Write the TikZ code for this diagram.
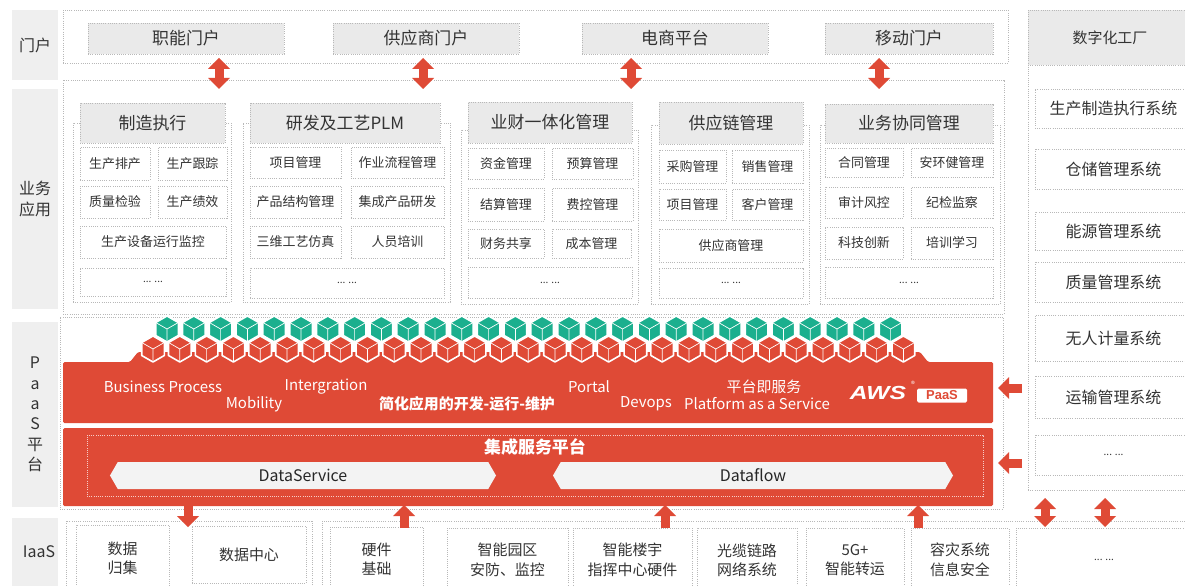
\documentclass[tikz,border=0pt]{standalone}
\usepackage{fontspec}
\setmainfont{Noto Sans CJK SC}
\newfontfamily\logofont{Liberation Sans}
\usetikzlibrary{arrows.meta,shapes.symbols}

\definecolor{awsred}{HTML}{DF4A36}
\definecolor{cubegreen}{HTML}{1BAF8E}
\definecolor{sidegrey}{HTML}{EFEFEF}
\definecolor{headgrey}{HTML}{EAEAEA}
\definecolor{dotgrey}{HTML}{B8B8B8}
\definecolor{ink}{HTML}{333333}
\definecolor{barfill}{HTML}{F3F3F3}

% box given by its corners (x1,y1)-(x2,y2): name, x1, y1, x2, y2, style, text
\newcommand{\placebox}[7]{%
  \node[#6, minimum width={(#4-#2)*1bp}, minimum height={(#5-#3)*1bp}]
    (#1) at ({(#2+#4)/2},{(#3+#5)/2}) {#7};}

% one isometric cube: centre x, centre y, colour
\newcommand{\isocube}[3]{%
  \begin{scope}[shift={(#1,#2)}]
    \filldraw[fill=#3, draw=white, line width=1.6bp, line join=round]
      (0,-13) -- (11.3,-6.5) -- (11.3,6.5) -- (0,13) -- (-11.3,6.5) -- (-11.3,-6.5) -- cycle;
    \draw[white, line width=0.7bp] (-11.3,-6.5) -- (0,0) -- (11.3,-6.5) (0,0) -- (0,13);
  \end{scope}}

\tikzset{
  dotline/.style={draw=dotgrey, line width=0.8bp, dash pattern=on 0.9bp off 1.3bp},
  frame/.style={dotline, inner sep=0pt, outer sep=0pt},
  sidelabel/.style={fill=sidegrey, inner sep=0pt, outer sep=0pt, text=ink,
    font=\fontsize{16}{20.5}\selectfont, align=center},
  headcell/.style={dotline, fill=headgrey, inner sep=0pt, outer sep=0pt, text=ink,
    font=\fontsize{17}{20}\selectfont},
  cell/.style={dotline, fill=white, inner sep=0pt, outer sep=0pt, text=ink,
    font=\fontsize{13}{15}\selectfont, align=center},
  syscell/.style={cell, font=\fontsize{16}{19}\selectfont},
  iaascell/.style={cell, font=\fontsize{15}{19.5}\selectfont},
  morecell/.style={cell, font=\fontsize{10}{12}\selectfont},
  bandtext/.style={text=white, inner sep=0pt, font=\fontsize{15}{18}\selectfont},
  databar/.style={shape=signal, signal to=east and west, signal pointer angle=120,
    fill=barfill, inner sep=0pt, outer sep=0pt, text=black!85,
    font=\fontsize{16}{19}\selectfont},
  block/.style={draw=awsred, line width=9bp},
  onetip/.style={-{Triangle[width=22bp,length=11bp,line width=0pt]}},
  twotips/.style={{Triangle[width=22bp,length=11bp,line width=0pt]}-{Triangle[width=22bp,length=11bp,line width=0pt]}}
}

\begin{document}
\begin{tikzpicture}[x=1bp,y=-1bp]
\useasboundingbox (0,0) rectangle (1185,586);
\clip (0,0) rectangle (1185,586);
\fill[white] (0,0) rectangle (1185,586);

% ---------- layer labels ----------
\placebox{lblPortal}{12}{10}{58}{80}{sidelabel}{门户}
\placebox{lblApp}{12}{89}{58}{309}{sidelabel}{业务\\应用}
\placebox{lblPaaS}{12}{322}{58}{507}{sidelabel}{P\\a\\a\\S\\平\\台}
\placebox{lblIaaS}{12}{518}{58}{592}{sidelabel}{}
\node[text=ink, inner sep=0pt, font=\fontsize{16}{19}\selectfont] (lblIaaStext) at (39,552) {IaaS};

% ---------- outer frames ----------
\placebox{portalFrame}{63}{10}{1008}{63}{frame}{}
\placebox{appFrame}{63}{80}{1004}{314}{frame}{}
\placebox{paasFrame}{60}{317}{1003}{509}{frame}{}
\placebox{factoryFrame}{1028}{10}{1192}{490}{frame}{}
\placebox{iaasFrameA}{66}{521}{312}{592}{frame}{}
\placebox{iaasFrameB}{322}{521}{1192}{592}{frame}{}

% ---------- portals ----------
\placebox{portalA}{88}{23}{284}{54}{headcell}{职能门户}
\placebox{portalB}{333}{23}{519}{54}{headcell}{供应商门户}
\placebox{portalC}{582}{23}{768}{54}{headcell}{电商平台}
\placebox{portalD}{825}{23}{993}{54}{headcell}{移动门户}

% ---------- business applications ----------
% manufacturing execution
\placebox{grpA}{73}{123}{231}{302}{frame}{}
\placebox{hdrA}{80}{103}{225}{143}{headcell}{制造执行}
\placebox{a11}{80}{147}{150}{180}{cell}{生产排产}
\placebox{a12}{158}{147}{227}{180}{cell}{生产跟踪}
\placebox{a21}{80}{186}{150}{218}{cell}{质量检验}
\placebox{a22}{158}{186}{227}{218}{cell}{生产绩效}
\placebox{a3}{80}{226}{226}{258}{cell}{生产设备运行监控}
\placebox{a4}{80}{268}{226}{296}{morecell}{... ...}
% R&D and process PLM
\placebox{grpB}{243}{123}{450}{302}{frame}{}
\placebox{hdrB}{250}{103}{440}{143}{headcell}{研发及工艺PLM}
\placebox{b11}{250}{147}{341}{178}{cell}{项目管理}
\placebox{b12}{351}{147}{444}{178}{cell}{作业流程管理}
\placebox{b21}{250}{186}{341}{218}{cell}{产品结构管理}
\placebox{b22}{351}{186}{444}{218}{cell}{集成产品研发}
\placebox{b31}{250}{226}{341}{258}{cell}{三维工艺仿真}
\placebox{b32}{351}{226}{444}{258}{cell}{人员培训}
\placebox{b4}{250}{268}{444}{298}{morecell}{... ...}
% business-finance
\placebox{grpC}{461}{130}{638}{304}{frame}{}
\placebox{hdrC}{468}{102}{632}{143}{headcell}{业财一体化管理}
\placebox{c11}{468}{148}{544}{179}{cell}{资金管理}
\placebox{c12}{552}{148}{633}{179}{cell}{预算管理}
\placebox{c21}{468}{188}{544}{221}{cell}{结算管理}
\placebox{c22}{552}{188}{633}{221}{cell}{费控管理}
\placebox{c31}{468}{229}{544}{258}{cell}{财务共享}
\placebox{c32}{552}{229}{631}{258}{cell}{成本管理}
\placebox{c4}{468}{267}{632}{298}{morecell}{... ...}
% supply chain
\placebox{grpD}{651}{125}{809}{304}{frame}{}
\placebox{hdrD}{659}{102}{803}{144}{headcell}{供应链管理}
\placebox{d11}{659}{150}{726}{183}{cell}{采购管理}
\placebox{d12}{732}{150}{803}{183}{cell}{销售管理}
\placebox{d21}{659}{189}{726}{220}{cell}{项目管理}
\placebox{d22}{732}{189}{803}{220}{cell}{客户管理}
\placebox{d3}{659}{229}{803}{262}{cell}{供应商管理}
\placebox{d4}{659}{268}{803}{298}{morecell}{... ...}
% collaboration
\placebox{grpE}{820}{125}{1000}{304}{frame}{}
\placebox{hdrE}{825}{104}{993}{143}{headcell}{业务协同管理}
\placebox{e11}{825}{148}{903}{177}{cell}{合同管理}
\placebox{e12}{911}{148}{993}{177}{cell}{安环健管理}
\placebox{e21}{825}{187}{903}{218}{cell}{审计风控}
\placebox{e22}{911}{187}{993}{218}{cell}{纪检监察}
\placebox{e31}{825}{227}{903}{259}{cell}{科技创新}
\placebox{e32}{911}{227}{993}{259}{cell}{培训学习}
\placebox{e4}{825}{267}{993}{298}{morecell}{... ...}

% ---------- digital factory ----------
\placebox{factoryHdr}{1028}{10}{1192}{65}{headcell, font=\fontsize{15}{18}\selectfont}{数字化工厂}
\placebox{f1}{1035}{89}{1192}{128}{syscell}{生产制造执行系统}
\placebox{f2}{1035}{149}{1192}{189}{syscell}{仓储管理系统}
\placebox{f3}{1035}{212}{1192}{250}{syscell}{能源管理系统}
\placebox{f4}{1035}{262}{1192}{302}{syscell}{质量管理系统}
\placebox{f5}{1035}{315}{1192}{361}{syscell}{无人计量系统}
\placebox{f6}{1035}{376}{1192}{418}{syscell}{运输管理系统}
\placebox{f7}{1035}{435}{1192}{475}{morecell}{... ...}

% ---------- PaaS platform ----------
\fill[awsred, rounded corners=1.5bp] (63,362) -- (130,362) -- (138,352) -- (920,352)
  -- (928,362) -- (993,362) -- (993,423) -- (63,423) -- cycle;
\fill[awsred, rounded corners=1.5bp] (63,428) rectangle (993,506);
\placebox{esbFrame}{87}{435}{983}{496}{frame, draw=white!72!awsred}{}

\foreach \i in {0,...,28} {
  \pgfmathsetmacro\cx{153+26.8*\i}
  \isocube{\cx}{349}{awsred}
}
\foreach \i in {0,...,27} {
  \pgfmathsetmacro\cx{167+26.8*\i}
  \isocube{\cx}{329}{cubegreen}
}

\node[bandtext] (tBP) at (163,387) {Business Process};
\node[bandtext] (tMob) at (254,404) {Mobility};
\node[bandtext] (tInt) at (326,387) {Intergration};
\node[bandtext, font=\fontsize{15}{18}\selectfont\bfseries] (tSimp) at (467,404) {简化应用的开发-运行-维护};
\node[bandtext] (tPortal) at (589,387) {Portal};
\node[bandtext] (tPaaScn) at (764,387) {平台即服务};
\node[bandtext] (tDev) at (646,404) {Devops};
\node[bandtext] (tPlat) at (757,404) {Platform as a Service};

\node[text=white, inner sep=0pt, xscale=1.3,
  font=\logofont\bfseries\itshape\fontsize{19}{19}\selectfont] (awsmark) at (878,393) {AWS};
\node[text=white, inner sep=0pt, font=\fontsize{8}{8}\selectfont] (regmark) at (913,384) {®};
\node[fill=white, rounded corners=1.5bp, minimum width=50bp, minimum height=14bp, inner sep=0pt,
  text=awsred, font=\logofont\bfseries\fontsize{13}{13}\selectfont] (paasmark) at (942,395.5) {PaaS};

\node[bandtext, font=\fontsize{17}{20}\selectfont\bfseries] (tESP) at (535,447) {集成服务平台};
\node[databar, minimum width=386bp, minimum height=27bp] (dataservice) at (303,475.5) {DataService};
\node[databar, minimum width=400bp, minimum height=27bp] (dataflow) at (753,475.5) {Dataflow};

% ---------- IaaS ----------
\placebox{i1}{76}{525}{169}{592}{iaascell}{数据\\归集}
\placebox{i2}{192}{526}{306}{583}{iaascell}{数据中心}
\placebox{i3}{330}{527}{423}{592}{iaascell}{硬件\\基础}
\placebox{i4}{447}{528}{568}{592}{iaascell}{智能园区\\安防、监控}
\placebox{i5}{573}{528}{692}{592}{iaascell}{智能楼宇\\指挥中心硬件}
\placebox{i6}{697}{528}{797}{592}{iaascell}{光缆链路\\网络系统}
\placebox{i7}{806}{528}{904}{592}{iaascell}{5G+\\智能转运}
\placebox{i8}{911}{528}{1009}{592}{iaascell}{容灾系统\\信息安全}
\placebox{i9}{1016}{528}{1192}{592}{morecell}{... ...}

% ---------- connectors ----------
\coordinate (pa1) at (219,58);  \coordinate (pb1) at (219,89);
\coordinate (pa2) at (423,58);  \coordinate (pb2) at (423,89);
\coordinate (pa3) at (631,58);  \coordinate (pb3) at (631,89);
\coordinate (pa4) at (879,58);  \coordinate (pb4) at (879,89);
\draw[block, twotips] (pa1) -- (pb1);
\draw[block, twotips] (pa2) -- (pb2);
\draw[block, twotips] (pa3) -- (pb3);
\draw[block, twotips] (pa4) -- (pb4);

\coordinate (fr1) at (1022,388); \coordinate (fl1) at (998,388);
\coordinate (fr2) at (1022,463); \coordinate (fl2) at (998,463);
\draw[block, onetip] (fr1) -- (fl1);
\draw[block, onetip] (fr2) -- (fl2);

\coordinate (dn0) at (188,503); \coordinate (dn1) at (188,527);
\draw[block, onetip] (dn0) -- (dn1);
\coordinate (up1a) at (404,528); \coordinate (up1b) at (404,505);
\coordinate (up2a) at (665,528); \coordinate (up2b) at (665,505);
\coordinate (up3a) at (918,528); \coordinate (up3b) at (918,505);
\draw[block, onetip] (up1a) -- (up1b);
\draw[block, onetip] (up2a) -- (up2b);
\draw[block, onetip] (up3a) -- (up3b);

\coordinate (v1a) at (1045,498); \coordinate (v1b) at (1045,527);
\coordinate (v2a) at (1105,498); \coordinate (v2b) at (1105,527);
\draw[block, twotips] (v1a) -- (v1b);
\draw[block, twotips] (v2a) -- (v2b);
\end{tikzpicture}
\end{document}
